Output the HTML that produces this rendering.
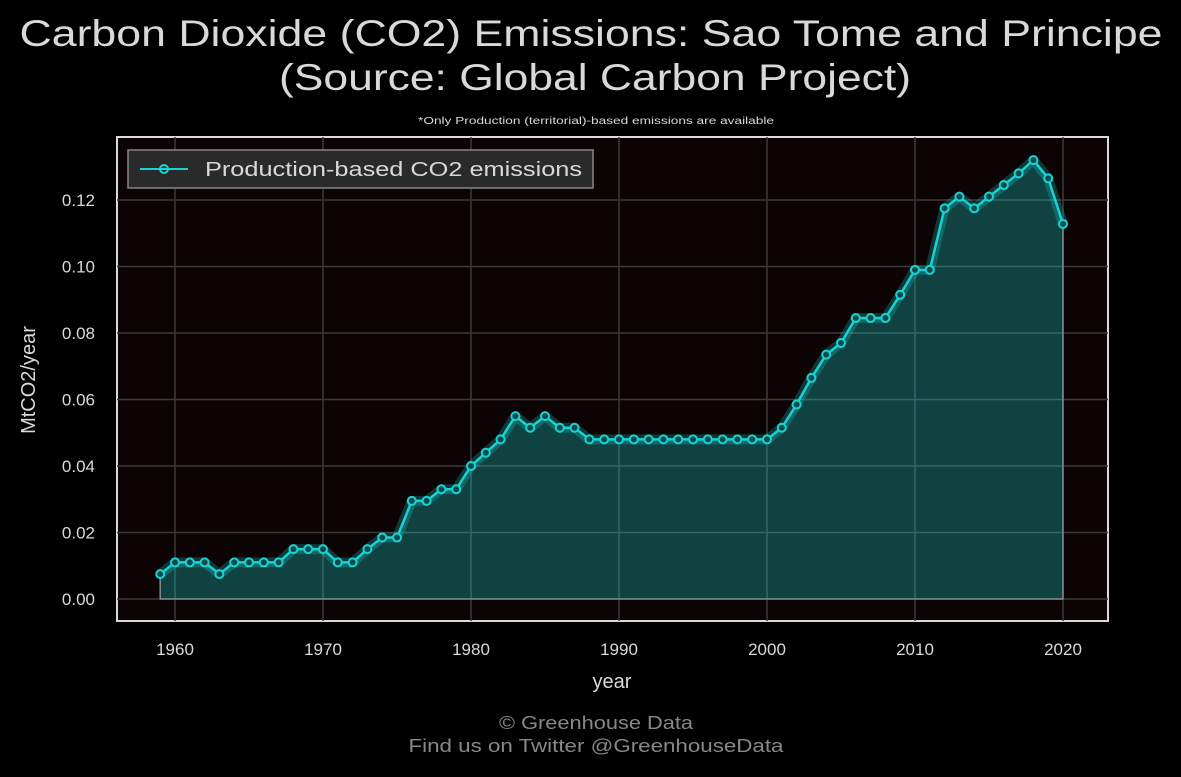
<!DOCTYPE html>
<html><head><meta charset="utf-8">
<style>
body{margin:0;background:#000;width:1181px;height:772px;overflow:hidden;font-family:"Liberation Sans",sans-serif;}
svg text{font-family:"Liberation Sans",sans-serif;}
</style></head>
<body>
<svg id="chart" width="1181" height="772" xmlns="http://www.w3.org/2000/svg">
<rect width="1181" height="772" fill="#000"/>
<text x="591" y="46" text-anchor="middle" fill="#d9d9d9" font-size="37" textLength="1143" lengthAdjust="spacingAndGlyphs">Carbon Dioxide (CO2) Emissions: Sao Tome and Principe</text>
<text x="595" y="90" text-anchor="middle" fill="#d9d9d9" font-size="37" textLength="632" lengthAdjust="spacingAndGlyphs">(Source: Global Carbon Project)</text>
<text x="596" y="124" text-anchor="middle" fill="#d9d9d9" font-size="10" textLength="356" lengthAdjust="spacingAndGlyphs">*Only Production (territorial)-based emissions are available</text>
<rect x="117" y="137" width="991" height="484" fill="#0c0304" stroke="#d9d9d9" stroke-width="2"/>
<g id="grid"></g>
<g id="series"></g>
<g id="axes"></g>
<g>
<rect x="128" y="150" width="465" height="38" fill="#2a2a2a" stroke="#888" stroke-width="1.5"/>
<line x1="140" y1="169" x2="188" y2="169" stroke="#19d3d3" stroke-width="2"/>
<circle cx="164" cy="169" r="4" fill="none" stroke="#19d3d3" stroke-width="2"/>
<text x="205" y="176" fill="#d9d9d9" font-size="20" textLength="377" lengthAdjust="spacingAndGlyphs">Production-based CO2 emissions</text>
</g>
<text transform="translate(35,380) rotate(-90)" text-anchor="middle" fill="#d9d9d9" font-size="20">MtCO2/year</text>
<text x="612" y="688" text-anchor="middle" fill="#d9d9d9" font-size="20">year</text>
<text x="596" y="729" text-anchor="middle" fill="#888" font-size="18" textLength="194" lengthAdjust="spacingAndGlyphs">© Greenhouse Data</text>
<text x="596" y="752" text-anchor="middle" fill="#888" font-size="18" textLength="375" lengthAdjust="spacingAndGlyphs">Find us on Twitter @GreenhouseData</text>
</svg>
<script>
const years=[];for(let y=1959;y<=2020;y++)years.push(y);
const values=[0.0075,0.011,0.011,0.011,0.0075,0.011,0.011,0.011,0.011,0.015,0.015,0.015,0.011,0.011,0.015,0.0185,0.0185,0.0295,0.0295,0.033,0.033,0.040,0.044,0.048,0.055,0.0515,0.055,0.0515,0.0515,0.048,0.048,0.048,0.048,0.048,0.048,0.048,0.048,0.048,0.048,0.048,0.048,0.048,0.0515,0.0585,0.0665,0.0735,0.077,0.0845,0.0845,0.0845,0.0915,0.099,0.099,0.1175,0.121,0.1175,0.121,0.1245,0.128,0.132,0.1265,0.1128];
const yTicks=[0,0.02,0.04,0.06,0.08,0.10,0.12];
const yTickLabels=["0.00","0.02","0.04","0.06","0.08","0.10","0.12"];
const xTicks=[1960,1970,1980,1990,2000,2010,2020];
const ns="http://www.w3.org/2000/svg";
const X=v=>175+(v-1960)*(1063-175)/60;
const Y=v=>599-v*(599-200)/0.12;
function mk(t,a,p){const e=document.createElementNS(ns,t);for(const k in a)e.setAttribute(k,a[k]);p.appendChild(e);return e;}
const g=document.getElementById('grid'),s=document.getElementById('series'),ax=document.getElementById('axes');
yTicks.forEach((v,i)=>{
const l=mk('line',{x1:117,x2:1108,y1:Y(v),y2:Y(v),stroke:'#3a3a3a','stroke-width':1.5},g);


const t=mk('text',{x:95,y:Y(v)+6,'text-anchor':'end',fill:'#d9d9d9','font-size':17},ax);t.textContent=yTickLabels[i];


});
xTicks.forEach(v=>{
const l=mk('line',{x1:X(v),x2:X(v),y1:137,y2:621,stroke:'#3a3a3a','stroke-width':1.5},g);


const t=mk('text',{x:X(v),y:655,'text-anchor':'middle',fill:'#d9d9d9','font-size':17},ax);t.textContent=v;


});
const pts=years.map((y,i)=>X(y)+','+Y(values[i])).join(' ');
const area=mk('polygon',{points:X(years[0])+','+Y(0)+' '+pts+' '+X(years[years.length-1])+','+Y(0),fill:'#19d3d3','fill-opacity':0.3,stroke:'#888','stroke-width':1.5},s);


const glow=mk('polyline',{points:pts,fill:'none',stroke:'#19d3d3','stroke-opacity':0.25,'stroke-width':10,'stroke-linejoin':'round'},s);


const line=mk('polyline',{points:pts,fill:'none',stroke:'#19d3d3','stroke-width':2.5},s);


years.forEach((y,i)=>{
const c=mk('circle',{cx:X(y),cy:Y(values[i]),r:4,fill:'#0a4a4a',stroke:'#19d3d3','stroke-width':2},s);


});
</script>
</body></html>
